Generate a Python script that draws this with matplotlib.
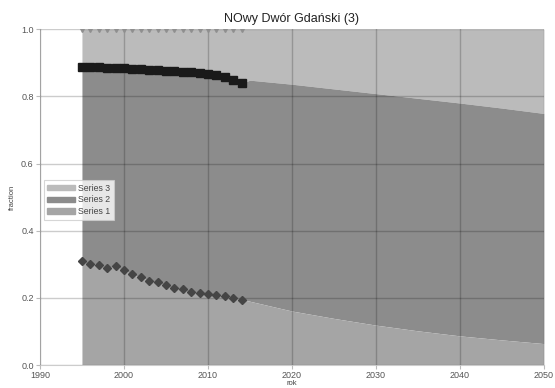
import numpy as np
import matplotlib
matplotlib.use('Agg')
import matplotlib.pyplot as plt
from matplotlib.patches import Patch

plt.rcParams['font.family'] = ['Liberation Sans', 'DejaVu Sans']

# measured years 1995-2014
years = list(range(1995, 2015))
s1_obs = [0.309, 0.302, 0.299, 0.290, 0.294, 0.282, 0.270, 0.261, 0.251, 0.246,
          0.238, 0.230, 0.226, 0.218, 0.215, 0.212, 0.209, 0.207, 0.200, 0.195]
s2_obs = [0.888, 0.887, 0.886, 0.885, 0.884, 0.883, 0.882, 0.880, 0.879, 0.878,
          0.876, 0.875, 0.873, 0.871, 0.869, 0.867, 0.864, 0.858, 0.849, 0.839]
s3_obs = [1.0] * len(years)

# projection
proj_years = [2015, 2020, 2025, 2030, 2035, 2040, 2045, 2050]
s1_proj = [0.190, 0.161, 0.139, 0.119, 0.102, 0.087, 0.075, 0.064]
s2_proj = [0.848, 0.836, 0.822, 0.808, 0.794, 0.780, 0.765, 0.749]

x_all = years + proj_years
s1_all = s1_obs + s1_proj
s2_all = s2_obs + s2_proj

c3, c2, c1 = '#bbbbbb', '#8c8c8c', '#a5a5a5'

fig = plt.figure(figsize=(5.55, 3.88), dpi=100)
ax = fig.add_axes([0.072, 0.059, 0.908, 0.866])

ax.fill_between(x_all, s2_all, 1.0, color=c3, lw=0, zorder=1)
ax.fill_between(x_all, s1_all, s2_all, color=c2, lw=0, zorder=1)
ax.fill_between(x_all, 0, s1_all, color=c1, lw=0, zorder=1)

ax.plot(years, s3_obs, ls='none', marker='v', ms=4, color='#8f8f8f', zorder=4)
ax.plot(years, s2_obs, ls='none', marker='s', ms=6, color='#1a1a1a', zorder=4)
ax.plot(years, s1_obs, ls='none', marker='D', ms=4.5, color='#454545', zorder=4)

ax.set_xlim(1990, 2050)
ax.set_ylim(0, 1.0)
ax.set_xticks(range(1990, 2051, 10))
ax.set_yticks([0.0, 0.2, 0.4, 0.6, 0.8, 1.0])
ax.set_yticklabels(['0.0', '0.2', '0.4', '0.6', '0.8', '1.0'])
ax.grid(True, color='black', alpha=0.2, lw=1, zorder=3)
ax.set_axisbelow(False)
for sp in ['top', 'right']:
    ax.spines[sp].set_visible(False)
for sp in ['left', 'bottom']:
    ax.spines[sp].set_color('#cccccc')
ax.tick_params(labelsize=6.5, colors='#555555', length=3, width=0.8, pad=1.5)
ax.tick_params(axis='both', color='#bbbbbb')

ax.set_title('NOwy Dwór Gdański (3)', fontsize=9, color='#222222', pad=5)
ax.set_xlabel('rok', fontsize=5.5, color='#444444', labelpad=0)
ax.set_ylabel('fraction', fontsize=5.5, color='#444444', labelpad=4)

handles = [Patch(color=c3, label='Series 3'),
           Patch(color=c2, label='Series 2'),
           Patch(color=c1, label='Series 1')]
leg = ax.legend(handles=handles, loc='upper left', bbox_to_anchor=(0.008, 0.55),
                fontsize=6.3, frameon=True, fancybox=False, handlelength=3.2,
                handleheight=0.6, handletextpad=0.3, borderpad=0.4,
                labelspacing=0.3, borderaxespad=0)
leg.get_frame().set_edgecolor('#cccccc')
leg.get_frame().set_linewidth(0.8)
for t in leg.get_texts():
    t.set_color('#444444')
leg.set_zorder(5)

fig.savefig('out.png', dpi=100)
